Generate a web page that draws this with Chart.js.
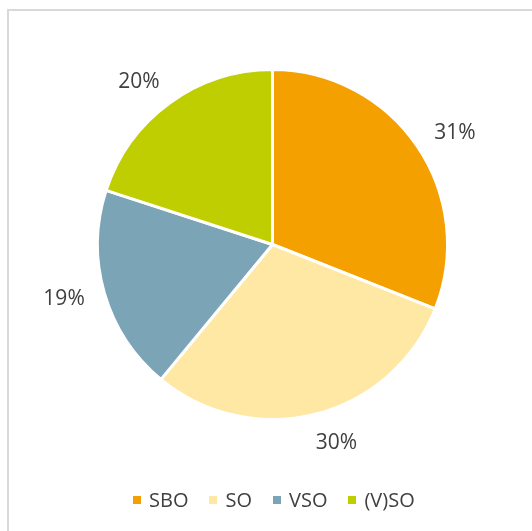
<!DOCTYPE html>
<html>
<head>
<meta charset="utf-8">
<script src="https://cdn.jsdelivr.net/npm/chart.js@4"></script>
<style>
    html, body { margin: 0; padding: 0; background: #fff; overflow: hidden; }
    #moldura {
        position: absolute; left: 7px; top: 9px; width: 700px; height: 700px;
        border: 2px solid #d9d9d9; box-sizing: border-box;
    }
    #area { position: absolute; left: 0; top: 0; width: 532px; height: 531px; }
    #legenda {
        position: absolute; left: 133px; top: 486px; display: flex; align-items: center;
        font-family: "Open Sans", sans-serif; font-size: 20px; color: #404040;
    }
    .item { display: flex; align-items: center; margin-right: 21px; }
    .marca { width: 8px; height: 8px; margin-right: 8px; }
</style>
</head>
<body>
<div id="moldura"></div>
<div id="area"><canvas id="grafico"></canvas></div>
<div id="legenda"></div>

<script>
const categorias = ['SBO', 'SO', 'VSO', '(V)SO'];
const valores = [31, 30, 19, 20];
const cores = ['#F4A000', '#FFE8A3', '#7BA5B7', '#BFCE00'];

// rótulos de porcentagem fora das fatias
const rotulosFora = {
    id: 'rotulosFora',
    afterDatasetsDraw(chart, args, opts) {
        const ctx = chart.ctx;
        const total = valores.reduce((a, b) => a + b, 0);
        ctx.save();
        ctx.font = '21px "Open Sans"';
        ctx.fillStyle = '#404040';
        ctx.textAlign = 'center';
        ctx.textBaseline = 'alphabetic';
        chart.getDatasetMeta(0).data.forEach((arc, i) => {
            const p = arc.getProps(['x', 'y', 'startAngle', 'endAngle', 'outerRadius'], true);
            const meio = (p.startAngle + p.endAngle) / 2 + (opts.giro[i] || 0) * Math.PI / 180;
            const texto = Math.round(valores[i] / total * 100) + '%';
            const m = ctx.measureText(texto);
            const w = m.width;
            const h = m.actualBoundingBoxAscent + m.actualBoundingBoxDescent;
            const dx = Math.cos(meio);
            const dy = Math.sin(meio);
            const dist = p.outerRadius + 18 + Math.abs(dx) * w / 2 + Math.abs(dy) * h / 2;
            const cx = p.x + dx * dist;
            const cy = p.y + dy * dist;
            ctx.fillText(texto, cx, cy + (m.actualBoundingBoxAscent - m.actualBoundingBoxDescent) / 2);
        });
        ctx.restore();
    }
};

const grafico = new Chart(document.getElementById('grafico'), {
    type: 'pie',
    data: {
        labels: categorias,
        datasets: [{
            data: valores,
            backgroundColor: cores,
            borderColor: '#ffffff',
            borderWidth: 3,
            radius: 175
        }]
    },
    options: {
        responsive: true,
        maintainAspectRatio: false,
        animation: false,
        layout: { padding: { left: 20, right: 7, top: 20, bottom: 62 } },
        plugins: {
            legend: { display: false },
            tooltip: { enabled: false },
            rotulosFora: { giro: [2.3, -3.6, 2, -3] }
        }
    },
    plugins: [rotulosFora]
});

// legenda em HTML
const legenda = document.getElementById('legenda');
categorias.forEach((nome, i) => {
    const item = document.createElement('div');
    item.className = 'item';
    const marca = document.createElement('span');
    marca.className = 'marca';
    marca.style.background = cores[i];
    const txt = document.createElement('span');
    txt.textContent = nome;
    item.appendChild(marca);
    item.appendChild(txt);
    legenda.appendChild(item);
});
</script>
</body>
</html>
